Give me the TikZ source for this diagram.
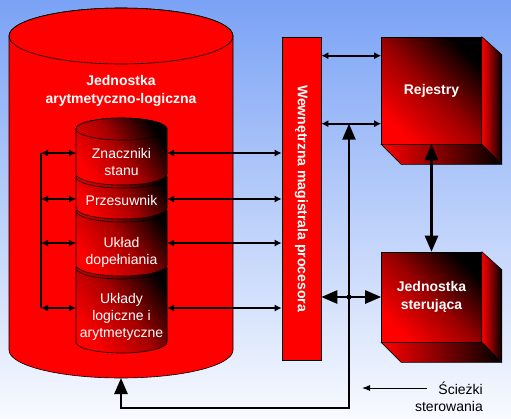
\documentclass[tikz,border=0pt]{standalone}
\usepackage{fontspec}
\setmainfont{Liberation Sans}
\usetikzlibrary{arrows.meta,positioning}
\definecolor{skytop}{RGB}{122,162,245}
\definecolor{skybottom}{RGB}{248,250,255}

\begin{document}
\begin{tikzpicture}[x=1pt,y=-1pt,
    outline/.style={draw=black,line width=0.6pt},
    faceshade/.style={top color=black,bottom color=red,middle color=red!60!black,shading angle=-45},
    sideshade/.style={left color=red,right color=black},
    cylshade/.style={top color=black,bottom color=red,middle color=red!65!black,shading angle=-55},
    titletext/.style={text=white,font=\bfseries\fontsize{14}{18}\selectfont,align=center},
    celltext/.style={text=white,font=\fontsize{14}{17}\selectfont,align=center},
    datalink/.style={line width=2pt,{Latex[length=7pt,width=7pt]}-{Latex[length=7pt,width=7pt]}},
    mainlink/.style={line width=2.6pt,{Triangle[length=16pt,width=13pt]}-{Triangle[length=16pt,width=13pt]}}]
        \shade[top color=skytop,bottom color=skybottom] (0,0) rectangle (511,418);
        \useasboundingbox (0,0) rectangle (511,418);
        \filldraw[outline,fill=red] (9,36) -- (9,350) arc[start angle=180,end angle=0,x radius=112,y radius=28] -- (233,36) arc[start angle=0,end angle=-180,x radius=112,y radius=28] -- cycle;
        \draw[outline] (121,36) ellipse[x radius=112,y radius=28];
        \coordinate (alu) at (121,378);
        \node[titletext] (alutitle) at (121,91) {Jednostka\\arytmetyczno-logiczna};
        \foreach \t/\b in {268/342,211/265,177/208,129/174} {
            \draw[outline,cylshade] (76,\t) -- (76,\b) arc[start angle=180,end angle=0,x radius=45.5,y radius=11] -- (167,\t) arc[start angle=0,end angle=-180,x radius=45.5,y radius=11] -- cycle;
            \draw[outline] (121.5,\t) ellipse[x radius=45.5,y radius=11];
        }
        \node[celltext] (flags) at (121.5,161.5) {Znaczniki\\stanu};
        \node[celltext] (shifter) at (121.5,200) {Przesuwnik};
        \node[celltext] (complement) at (121.5,252) {Układ\\dopełniania};
        \node[celltext] (logic) at (121.5,316.5) {Układy\\logiczne i\\arytmetyczne};
        \node[outline,fill=red,minimum width=39pt,minimum height=323pt,inner sep=0pt] (bus) at (301.5,198.5) {};
        \node[titletext,rotate=-90] (busname) at (bus.center) {Wewnętrzna magistrala procesora};
        \node[outline,faceshade,minimum width=100pt,minimum height=107pt,inner sep=0pt,titletext] (rej) at (431.5,90.5) {Rejestry};
        \node[outline,faceshade,minimum width=100pt,minimum height=90pt,inner sep=0pt,titletext] (jsu) at (431.5,297) {Jednostka\\sterująca};
        \foreach \c in {rej,jsu} {
            \draw[outline,sideshade] (\c.north east) -- ++(20,18) -- ([xshift=20pt,yshift=-20pt]\c.south east) -- (\c.south east) -- cycle;
            \draw[outline,sideshade] (\c.south west) -- ++(20,20) -- ++(100,0) -- (\c.south east) -- cycle;
        }
        \foreach \y [count=\i] in {153,199,243,308} {
            \coordinate (lb\i) at (41,\y);
            \coordinate (cl\i) at (76,\y);
            \coordinate (cr\i) at (167,\y);
            \draw[datalink] (lb\i) -- (cl\i);
            \draw[datalink] (cr\i) -- (bus.west |- cr\i);
        }
        \draw[line width=2pt] (lb1) -- (lb4);
        \path (rej.north west) ++(0,19) coordinate (rin1) ++(0,68) coordinate (rin2);
        \draw[datalink] (bus.east |- rin1) -- (rin1);
        \draw[datalink] (bus.east |- rin2) -- (rin2);
        \draw[mainlink] (rej.south) -- (jsu.north);
        \draw[mainlink] (bus.east |- jsu.west) -- (jsu.west);
        \coordinate (turn) at (349,408);
        \draw[mainlink] (alu) -- (alu |- turn) -- (turn) -- (turn |- rin2);
        \fill (turn |- jsu.west) circle (2.5);
        \node[anchor=east,align=right,font=\fontsize{14}{17}\selectfont,inner sep=0pt] (paths) at (483,397) {Ścieżki\\sterowania};
        \coordinate (pointer) at (427,388);
        \draw[line width=1pt,-{Latex[length=8pt,width=6pt]}] (pointer) -- ++(-65,0);
    \end{tikzpicture}
\end{document}
